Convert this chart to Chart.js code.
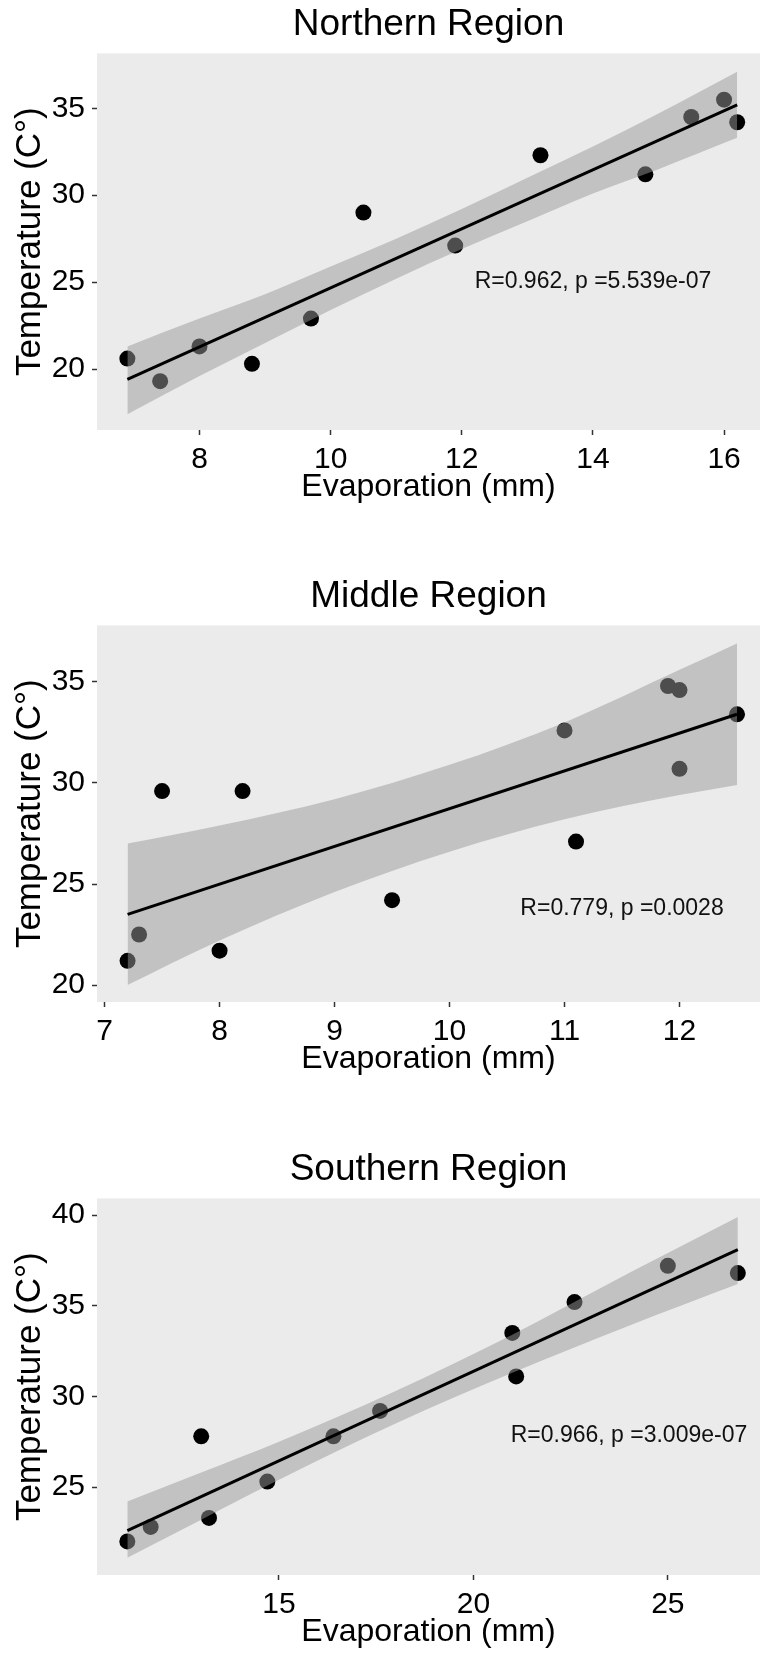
<!DOCTYPE html>
<html>
<head>
<meta charset="utf-8">
<script src="https://cdn.jsdelivr.net/npm/chart.js@4.4.1/dist/chart.umd.min.js"></script>
<style>
    html, body { margin: 0; padding: 0; background: #fff; }
    #page { position: relative; width: 768px; height: 1654px; overflow: hidden; }
    .panel { position: absolute; left: 0; width: 768px; height: 509px; }
</style>
</head>
<body>
<div id="page">
    <div class="panel" style="top:0px"><canvas id="north" width="768" height="509"></canvas></div>
    <div class="panel" style="top:572px"><canvas id="middle" width="768" height="509"></canvas></div>
    <div class="panel" style="top:1145px"><canvas id="south" width="768" height="509"></canvas></div>
</div>
<script>
// Northern region
const northEvap = [6.9, 7.4, 8.0, 8.8, 9.7, 10.5, 11.9, 13.2, 14.8, 15.5, 16.0, 16.2];
const northTemp = [20.6, 19.3, 21.3, 20.3, 22.9, 29.0, 27.1, 32.3, 31.2, 34.5, 35.5, 34.2];
const northFitX = [6.9, 16.2];
const northFitY = [19.4, 35.2];
const northBandX = [6.9, 8, 9, 10, 11, 12, 13, 14, 15, 16.2];
const northBandLow = [17.4, 19.6, 21.5, 23.4, 25.2, 26.9, 28.5, 30.1, 31.5, 33.3];
const northBandHigh = [21.3, 22.9, 24.3, 25.9, 27.5, 29.2, 31.0, 32.8, 34.7, 37.1];
const northXTicks = [8, 10, 12, 14, 16];
const northYTicks = [20, 25, 30, 35];
const northStat = 'R=0.962, p =5.539e-07';
const northStatAt = [14, 25];

// Middle region
const middleEvap = [7.2, 7.3, 7.5, 8.0, 8.2, 9.5, 11.0, 11.1, 11.9, 12.0, 12.0, 12.5];
const middleTemp = [21.2, 22.5, 29.6, 21.7, 29.6, 24.2, 32.6, 27.1, 34.8, 34.6, 30.7, 33.4];
const middleFitX = [7.2, 12.5];
const middleFitY = [23.5, 33.4];
const middleBandX = [7.2, 8, 9, 10, 11, 12, 12.5];
const middleBandLow = [20.0, 22.2, 24.6, 26.6, 28.2, 29.4, 29.9];
const middleBandHigh = [27.0, 27.9, 29.2, 30.9, 33.0, 35.6, 36.9];
const middleXTicks = [7, 8, 9, 10, 11, 12];
const middleYTicks = [20, 25, 30, 35];
const middleStat = 'R=0.779, p =0.0028';
const middleStatAt = [11.5, 23.8];

// Southern region
const southEvap = [11.1, 11.7, 13.0, 13.2, 14.7, 16.4, 17.6, 21.0, 21.1, 22.6, 25.0, 26.8];
const southTemp = [22.0, 22.8, 27.8, 23.3, 25.3, 27.8, 29.2, 33.5, 31.1, 35.2, 37.2, 36.8];
const southFitX = [11.1, 26.8];
const southFitY = [22.6, 38.1];
const southBandX = [11.1, 13, 15, 18, 21, 24, 26.8];
const southBandLow = [21.1, 23.2, 25.4, 28.5, 31.3, 33.9, 36.2];
const southBandHigh = [24.2, 25.8, 27.5, 30.3, 33.4, 36.8, 39.9];
const southXTicks = [15, 20, 25];
const southYTicks = [25, 30, 35, 40];
const southStat = 'R=0.966, p =3.009e-07';
const southStatAt = [24, 27.85];

const FONT = '"Liberation Sans", Arial, Helvetica, sans-serif';
Chart.defaults.font.family = FONT;

function pairs(xs, ys) {
    return xs.map((x, i) => ({ x: x, y: ys[i] }));
}

// grey panel behind the plot
const panelBg = {
    id: 'panelBg',
    beforeDraw(chart) {
        const a = chart.chartArea;
        chart.ctx.save();
        chart.ctx.fillStyle = '#EBEBEB';
        chart.ctx.fillRect(a.left, a.top, a.right - a.left, a.bottom - a.top);
        chart.ctx.restore();
    }
};

// correlation text placed in data units
const statLabel = {
    id: 'statLabel',
    afterDatasetsDraw(chart, args, opts) {
        const ctx = chart.ctx;
        ctx.save();
        ctx.font = '23px ' + FONT;
        ctx.fillStyle = '#111';
        ctx.textAlign = 'center';
        ctx.textBaseline = 'middle';
        ctx.fillText(opts.text, chart.scales.x.getPixelForValue(opts.at[0]), chart.scales.y.getPixelForValue(opts.at[1]));
        ctx.restore();
    }
};

function axis(ticks, min, max, title, isX) {
    return {
        type: 'linear',
        min: min,
        max: max,
        afterBuildTicks: (scale) => {
            scale.ticks = ticks.map(v => ({ value: v }));
        },
        afterFit: (scale) => {
            if (isX) {
                scale.height = 79;
                scale.paddingLeft = 0;
                scale.paddingRight = 0;
            } else {
                scale.width = 97;
                scale.paddingTop = 0;
                scale.paddingBottom = 0;
            }
        },
        grid: {
            display: true,
            drawOnChartArea: false,
            drawTicks: true,
            tickLength: 5,
            tickWidth: 1.5,
            tickColor: '#333'
        },
        border: { display: false },
        ticks: {
            font: { size: 30 },
            color: '#000',
            padding: 7,
            maxRotation: 0
        },
        title: {
            display: true,
            text: title,
            color: '#000',
            font: { size: isX ? 32 : 35 },
            padding: isX ? { top: 0, bottom: 3 } : { top: 9, bottom: 0 }
        }
    };
}

function drawPanel(id, p) {
    return new Chart(document.getElementById(id).getContext('2d'), {
        type: 'scatter',
        data: {
            datasets: [{
                data: pairs(p.evap, p.temp),
                pointRadius: 8,
                pointBackgroundColor: '#000',
                pointBorderWidth: 0,
                order: 3
            }, {
                data: pairs(p.bandX, p.bandLow),
                showLine: true,
                borderWidth: 0,
                borderColor: 'rgba(0,0,0,0)',
                pointRadius: 0,
                fill: false,
                cubicInterpolationMode: 'monotone',
                order: 2
            }, {
                data: pairs(p.bandX, p.bandHigh),
                showLine: true,
                borderWidth: 0,
                borderColor: 'rgba(0,0,0,0)',
                backgroundColor: 'rgba(153,153,153,0.5)',
                pointRadius: 0,
                fill: '-1',
                cubicInterpolationMode: 'monotone',
                order: 2
            }, {
                data: pairs(p.fitX, p.fitY),
                showLine: true,
                borderColor: '#000',
                borderWidth: 3,
                pointRadius: 0,
                order: 1
            }]
        },
        options: {
            responsive: false,
            animation: false,
            events: [],
            layout: { padding: 0 },
            scales: {
                x: axis(p.xTicks, p.xMin, p.xMax, 'Evaporation (mm)', true),
                y: axis(p.yTicks, p.yMin, p.yMax, 'Temperature (C°)', false)
            },
            plugins: {
                legend: { display: false },
                tooltip: { enabled: false },
                title: {
                    display: true,
                    text: p.title,
                    fullSize: false,
                    color: '#000',
                    font: { size: 37, weight: 'normal' },
                    padding: { top: 3, bottom: 6 }
                },
                statLabel: { text: p.stat, at: p.statAt }
            }
        },
        plugins: [panelBg, statLabel]
    });
}

drawPanel('north', {
    title: 'Northern Region',
    evap: northEvap, temp: northTemp,
    fitX: northFitX, fitY: northFitY,
    bandX: northBandX, bandLow: northBandLow, bandHigh: northBandHigh,
    xTicks: northXTicks, yTicks: northYTicks,
    xMin: 6.437, xMax: 16.548, yMin: 16.49, yMax: 38.16,
    stat: northStat, statAt: northStatAt
});

drawPanel('middle', {
    title: 'Middle Region',
    evap: middleEvap, temp: middleTemp,
    fitX: middleFitX, fitY: middleFitY,
    bandX: middleBandX, bandLow: middleBandLow, bandHigh: middleBandHigh,
    xTicks: middleXTicks, yTicks: middleYTicks,
    xMin: 6.934, xMax: 12.70, yMin: 19.16, yMax: 37.80,
    stat: middleStat, statAt: middleStatAt
});

drawPanel('south', {
    title: 'Southern Region',
    evap: southEvap, temp: southTemp,
    fitX: southFitX, fitY: southFitY,
    bandX: southBandX, bandLow: southBandLow, bandHigh: southBandHigh,
    xTicks: southXTicks, yTicks: southYTicks,
    xMin: 10.32, xMax: 27.37, yMin: 20.15, yMax: 40.92,
    stat: southStat, statAt: southStatAt
});
</script>
</body>
</html>
